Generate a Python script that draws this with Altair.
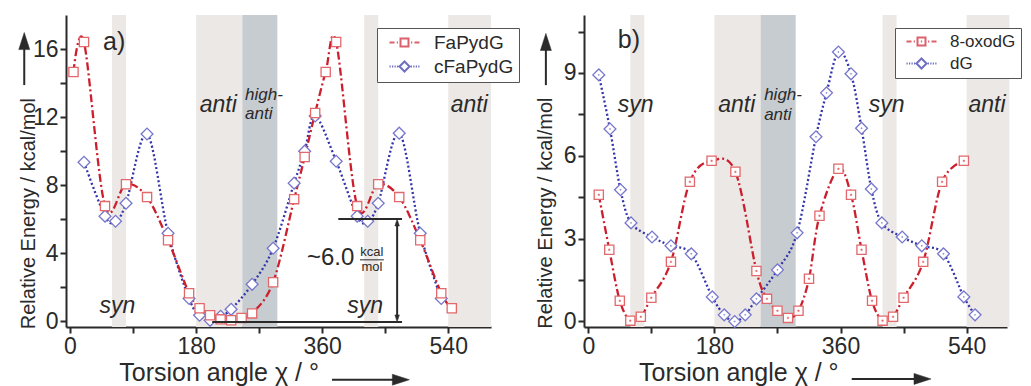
import altair as alt
import pandas as pd

FONT = "Liberation Sans"
INK = "#2a2a2a"
RED_LINE = "#cc1f2e"
RED_MARK = "#e2686c"
BLUE_LINE = "#3434aa"
BLUE_MARK = "#7676cc"
BAND_LIGHT = "#ebe8e5"
BAND_DARK = "#c7ccd0"

# ---------------- data ----------------
# panel a
fa_angle = [5, 20, 50, 80, 110, 140, 170, 185, 200, 215, 230, 245, 260, 290, 320, 335,
            350, 365, 380, 410, 440, 470, 500, 530, 545]
fa_energy = [14.65, 16.41, 6.76, 8.05, 7.29, 4.75, 1.63, 0.75, 0.34, 0.10, 0.05, 0.18, 0.45,
             2.28, 7.17, 9.65, 12.24, 14.65, 16.41, 6.76, 8.05, 7.29, 4.75, 1.63, 0.75]
cfa_angle = [20, 50, 65, 80, 110, 140, 170, 185, 200, 215, 230, 260, 290, 320, 335, 350,
             380, 410, 425, 440, 470, 500, 530]
cfa_energy = [9.34, 6.17, 5.87, 6.93, 11.0, 5.16, 1.33, 0.34, 0.04, 0.28, 0.69, 2.16, 4.28,
              8.11, 9.99, 12.06, 9.4, 6.17, 5.87, 6.93, 11.05, 5.16, 1.33]
# panel b
oxo_angle = [15, 30, 45, 60, 75, 90, 118, 145, 176, 210, 240, 255, 270, 285, 300, 315, 330,
             357, 375, 390, 405, 420, 435, 450, 478, 505, 536]
oxo_energy = [4.59, 2.6, 0.75, 0.03, 0.17, 0.86, 2.16, 5.06, 5.82, 5.42, 1.83, 0.82, 0.39,
              0.13, 0.39, 1.55, 3.83, 5.53, 4.59, 2.6, 0.75, 0.03, 0.17, 0.86, 2.16, 5.06, 5.82]
dg_angle = [15, 31, 46, 61, 91, 118, 147, 177, 194, 209, 224, 240, 270, 298, 325, 340, 357,
            375, 390, 404, 419, 448, 476, 507, 536, 552]
dg_energy = [8.93, 6.97, 4.77, 3.57, 3.06, 2.74, 2.45, 0.89, 0.24, 0.0, 0.24, 0.82, 1.87, 3.21,
             6.69, 8.28, 9.76, 8.97, 7.0, 4.8, 3.57, 3.06, 2.74, 2.45, 0.89, 0.24]

# conformational regions (degrees)
light_start = [60, 180, 420, 540]
light_end = [80, 246, 440, 601]
dark_start = [246]
dark_end = [296]

series_a = ["FaPydG", "cFaPydG"]
series_b = ["8-oxodG", "dG"]

x_title = "Torsion angle \u03c7 / \u00b0"
y_title = "Relative Energy / kcal/mol"


# ---------------- helpers ----------------
def dash_path(segments):
    return "".join(f"M{a},0H{b}" for a, b in segments)


def legend_path(kind):
    if kind == "red":
        line = dash_path([(-3, -2), (-1.55, -1.3), (1.3, 1.55), (2, 3)])
        return line + "M-0.8,-0.8H0.8V0.8H-0.8Z"
    if kind == "reddot":
        line = dash_path([(-3, -2), (-1.55, -1.3), (1.3, 1.55), (2, 3)])
        return line + "M-0.8,-0.8H0.8V0.8H-0.8ZM-0.12,0H0.12"
    dots = [(-3, -2.75), (-2.5, -2.25), (-2, -1.75), (-1.5, -1.25),
            (1.25, 1.5), (1.75, 2), (2.25, 2.5), (2.75, 3)]
    return dash_path(dots) + "M-1,0L0,-1L1,0L0,1Z"


UP_HEAD = "M0,-1L0.58,0.8L-0.58,0.8Z"
DOWN_HEAD = "M0,1L0.58,-0.8L-0.58,-0.8Z"
RIGHT_HEAD = "M1,0L-0.8,-0.58L-0.8,0.58Z"


def axis_common(**kw):
    return alt.Axis(title=None, grid=False, tickSize=6, tickWidth=2, tickColor=INK,
                    domainColor=INK, domainWidth=2, labelFontSize=23, labelFont=FONT,
                    labelColor=INK, labelPadding=2, labelOverlap=False, labelFlush=False,
                    **kw)


def panel(cfg):
    xs = alt.Scale(domain=cfg["xdom"], nice=False, zero=False)
    ys = alt.Scale(domain=cfg["ydom"], nice=False, zero=False)
    xa = axis_common(values=[0, 90, 180, 270, 360, 450, 540], format="d",
                     labelExpr="datum.value % 180 == 0 ? datum.label : ''")
    ya = axis_common(values=cfg["yticks"], format="d",
                     labelExpr=f"datum.value % {cfg['ymajor']} == 0 ? datum.label : ''")

    def X(f="x"):
        return alt.X(f"{f}:Q", scale=xs, axis=xa)

    def Y(f="y"):
        return alt.Y(f"{f}:Q", scale=ys, axis=ya)

    layers = []
    light = pd.DataFrame({"x": light_start, "x2": light_end})
    dark = pd.DataFrame({"x": dark_start, "x2": dark_end})
    layers.append(alt.Chart(light).mark_rect(color=BAND_LIGHT).encode(x=X(), x2="x2:Q"))
    layers.append(alt.Chart(dark).mark_rect(color=BAND_DARK).encode(x=X(), x2="x2:Q"))

    s1 = pd.DataFrame({"x": cfg["s1x"], "y": cfg["s1y"]})
    s2 = pd.DataFrame({"x": cfg["s2x"], "y": cfg["s2y"]})
    layers.append(alt.Chart(s2).mark_line(interpolate="cardinal", color=BLUE_LINE,
                                          strokeWidth=2.3, strokeDash=[2, 2.4])
                  .encode(x=X(), y=Y()))
    layers.append(alt.Chart(s1).mark_line(interpolate="cardinal", color=RED_LINE,
                                          strokeWidth=2.3, strokeDash=[8, 3, 2, 3])
                  .encode(x=X(), y=Y()))
    layers.append(alt.Chart(s2).mark_point(shape="diamond", size=140, filled=True, fill="white",
                                           stroke=BLUE_MARK, strokeWidth=1.3, opacity=1)
                  .encode(x=X(), y=Y()))
    layers.append(alt.Chart(s1).mark_point(shape="square", size=85, filled=True, fill="white",
                                           stroke=RED_MARK, strokeWidth=1.3, opacity=1)
                  .encode(x=X(), y=Y()))
    if cfg["dots"]:
        layers.append(alt.Chart(s1).mark_point(shape="square", size=2, filled=True,
                                               fill=RED_MARK, stroke=RED_MARK, strokeWidth=0.5,
                                               opacity=1).encode(x=X(), y=Y()))
        layers.append(alt.Chart(s2).mark_point(shape="diamond", size=2, filled=True,
                                               fill=BLUE_MARK, stroke=BLUE_MARK, strokeWidth=0.5,
                                               opacity=1).encode(x=X(), y=Y()))

    # region labels
    big = pd.DataFrame(cfg["big_labels"], columns=["x", "y", "t"])
    layers.append(alt.Chart(big).mark_text(font=FONT, fontSize=23, fontStyle="italic",
                                           color=INK, align="center", baseline="alphabetic")
                  .encode(x=X(), y=Y(), text="t:N"))
    small = pd.DataFrame(cfg["small_labels"], columns=["x", "y", "t"])
    layers.append(alt.Chart(small).mark_text(font=FONT, fontSize=17, fontStyle="italic",
                                             color=INK, align="left", baseline="alphabetic")
                  .encode(x=X(), y=Y(), text="t:N"))
    tag = pd.DataFrame([cfg["tag"]], columns=["x", "y", "t"])
    layers.append(alt.Chart(tag).mark_text(font=FONT, fontSize=25, color=INK, align="center",
                                           baseline="alphabetic")
                  .encode(x=X(), y=Y(), text="t:N"))

    # axis titles as text with arrows
    xt = pd.DataFrame([cfg["xtitle"]], columns=["x", "y", "t"])
    layers.append(alt.Chart(xt).mark_text(font=FONT, fontSize=25, color=INK, align="left",
                                          baseline="alphabetic")
                  .encode(x=X(), y=Y(), text="t:N"))
    yt = pd.DataFrame([cfg["ytitle"]], columns=["x", "y", "t"])
    layers.append(alt.Chart(yt).mark_text(font=FONT, fontSize=20, color=INK, align="left",
                                          baseline="alphabetic", angle=270)
                  .encode(x=X(), y=Y(), text="t:N"))
    rules = pd.DataFrame(cfg["rules"], columns=["x", "y", "x2", "y2"])
    layers.append(alt.Chart(rules).mark_rule(color=INK, strokeWidth=2)
                  .encode(x=X(), y=Y(), x2="x2:Q", y2="y2:Q"))
    for head, pts, size in cfg["heads"]:
        hd = pd.DataFrame(pts, columns=["x", "y"])
        layers.append(alt.Chart(hd).mark_point(shape=head, size=size, filled=True, fill=INK,
                                               stroke=INK, strokeWidth=0.5, opacity=1)
                      .encode(x=X(), y=Y()))
    for extra in cfg.get("extras", []):
        layers.append(extra(X, Y))

    # legend (built from the series names only)
    names = cfg["names"]
    leg = pd.DataFrame({"series": names, "x": [0, 0], "y": [0, 0]})
    lg = alt.Legend(title=None, orient="none", legendX=cfg["legx"], legendY=13,
                    strokeColor="#555555", fillColor="white", padding=5, rowPadding=4,
                    symbolSize=100, symbolStrokeWidth=2, symbolOffset=13, labelOffset=20,
                    labelFont=FONT, labelFontSize=cfg["legfont"], labelColor=INK,
                    symbolFillColor="white")
    layers.append(alt.Chart(leg).transform_filter("false").mark_point(filled=False)
                  .encode(x=X(), y=Y(),
                          color=alt.Color("series:N", scale=alt.Scale(domain=names,
                                                                      range=[RED_LINE, BLUE_LINE]),
                                          legend=lg),
                          shape=alt.Shape("series:N", scale=alt.Scale(domain=names,
                                                                      range=cfg["paths"]),
                                          legend=lg)))
    return alt.layer(*layers).properties(width=cfg["w"], height=312)


def energy_note(X, Y):
    big = pd.DataFrame([[406, 3.28, "~6.0"]], columns=["x", "y", "t"])
    kcal = pd.DataFrame([[431, 3.85, "kcal"], [431, 2.95, "mol"]], columns=["x", "y", "t"])
    frac = pd.DataFrame([[414, 3.6, 448, 3.6]], columns=["x", "y", "x2", "y2"])
    return alt.layer(
        alt.Chart(big).mark_text(font=FONT, fontSize=24, color=INK, align="right",
                                 baseline="alphabetic").encode(x=X(), y=Y(), text="t:N"),
        alt.Chart(kcal).mark_text(font=FONT, fontSize=13, color=INK, align="center",
                                  baseline="alphabetic").encode(x=X(), y=Y(), text="t:N"),
        alt.Chart(frac).mark_rule(color=INK, strokeWidth=1).encode(
            x=X(), y=Y(), x2="x2:Q", y2="y2:Q"),
    )


cfg_a = dict(
    xdom=[-5.7, 601], ydom=[-0.35, 18.0], yticks=list(range(0, 17, 2)), ymajor=4, w=425,
    s1x=fa_angle, s1y=fa_energy, s2x=cfa_angle, s2y=cfa_energy, dots=False,
    big_labels=[[67.5, 0.45, "syn"], [421.5, 0.45, "syn"], [211.7, 12.3, "anti"],
                [570, 12.3, "anti"]],
    small_labels=[[250, 13.0, "high-"], [250, 11.9, "anti"]],
    tag=[63, 15.94, "a)"],
    xtitle=[70.4, -3.55, x_title],
    ytitle=[-49.5, -0.48, y_title],
    rules=[[-65.3, 13.88, -65.3, 16.0], [374, -3.45, 463, -3.45],
           [383, 6.0, 474, 6.0], [203, -0.05, 474, -0.05], [467, 0.3, 467, 5.7]],
    heads=[(UP_HEAD, [[-65.3, 16.41]], 360), (RIGHT_HEAD, [[471, -3.45]], 360),
           (UP_HEAD, [[467, 5.77]], 60), (DOWN_HEAD, [[467, 0.18]], 60)],
    extras=[energy_note],
    names=series_a, paths=[legend_path("red"), legend_path("blue")], legx=311, legfont=19,
)

cfg_b = dict(
    xdom=[-6.1, 597.6], ydom=[-0.2, 11.1], yticks=[0, 1.5, 3, 4.5, 6, 7.5, 9, 10.5], ymajor=3,
    w=423, s1x=oxo_angle, s1y=oxo_energy, s2x=dg_angle, s2y=dg_energy, dots=True,
    big_labels=[[67.6, 7.59, "syn"], [426, 7.59, "syn"], [212, 7.59, "anti"],
                [569, 7.59, "anti"]],
    small_labels=[[251, 8.02, "high-"], [251, 7.3, "anti"]],
    tag=[58, 9.9, "b)"],
    xtitle=[72.4, -2.15, x_title],
    ytitle=[-51.8, -0.26, y_title],
    rules=[[-60.5, 8.56, -60.5, 9.9], [376, -2.08, 470, -2.08]],
    heads=[(UP_HEAD, [[-60.5, 10.09]], 360), (RIGHT_HEAD, [[475.7, -2.08]], 360)],
    names=series_b, paths=[legend_path("reddot"), legend_path("blue")], legx=311, legfont=17,
)

chart = alt.hconcat(panel(cfg_a), panel(cfg_b), spacing=93, bounds="flush").resolve_scale(
    color="independent", shape="independent").resolve_legend(
    color="independent", shape="independent").properties(
    padding={"left": 9, "top": 7, "right": 0, "bottom": 0}).configure_view(stroke=None)

chart.save("out.html", embed_options={"renderer": "svg", "actions": False})
